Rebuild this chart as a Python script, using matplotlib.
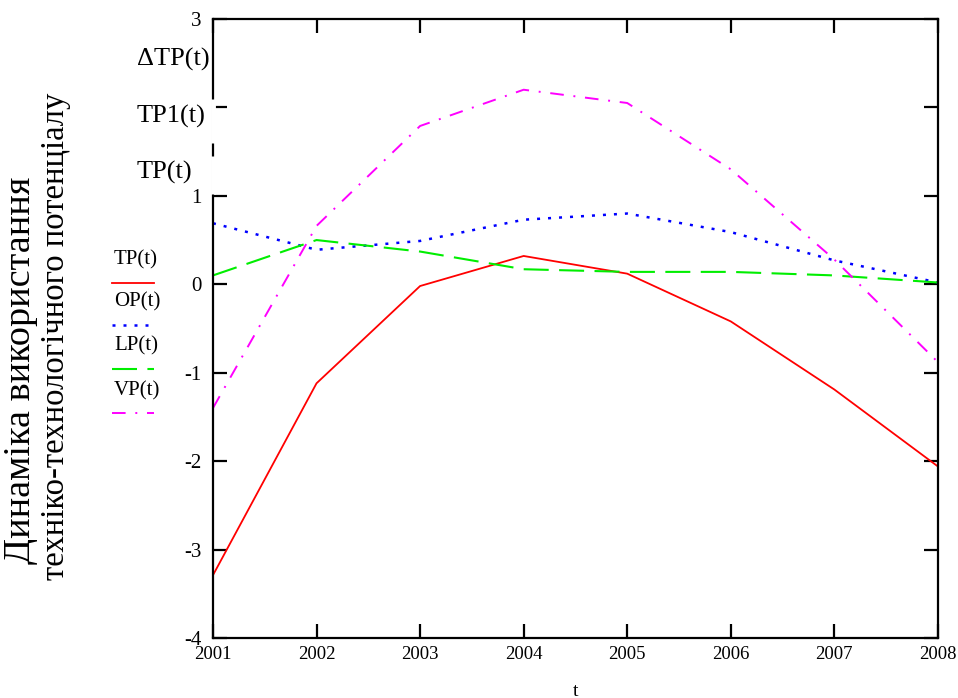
import numpy as np
import matplotlib
matplotlib.use("Agg")
import matplotlib.pyplot as plt
from matplotlib.lines import Line2D

plt.rcParams['font.family'] = ['Liberation Serif', 'DejaVu Serif']
plt.rcParams['axes.unicode_minus'] = False

# Yearly values of the potential components
years = [2001, 2002, 2003, 2004, 2005, 2006, 2007, 2008]
tp = [-3.29, -1.12, -0.02, 0.32, 0.12, -0.42, -1.19, -2.06]
op = [0.69, 0.39, 0.49, 0.73, 0.80, 0.59, 0.27, 0.02]
lp = [0.10, 0.50, 0.37, 0.17, 0.14, 0.14, 0.10, 0.02]
vp = [-1.40, 0.66, 1.79, 2.20, 2.05, 1.30, 0.28, -0.88]

series_names = ["TP(t)", "OP(t)", "LP(t)", "VP(t)"]
stacked_labels = ["\u0394TP(t)", "TP1(t)", "TP(t)"]
y_ticks = [3, 2, 1, 0, -1, -2, -3, -4]
y_ticklabels = ["3", "", "1", "0", "-1", "-2", "-3", "-4"]

styles = [
    dict(color="#ff0000", lw=1.3, ls="-"),
    dict(color="#0000ff", lw=1.8, ls=(0, (1.2, 3.2))),
    dict(color="#00ee00", lw=1.5, ls=(0, (12, 5))),
    dict(color="#ff00ff", lw=1.4, ls=(0, (7, 5, 1, 5))),
]

fig = plt.figure(figsize=(9.58, 6.98), dpi=100)
ax = fig.add_axes([0.2223, 0.086, 0.7567, 0.8868])

for vals, st in zip([tp, op, lp, vp], styles):
    ax.plot(years, vals, **st)

ax.set_xlim(2001, 2008)
ax.set_ylim(-4, 3)
ax.set_xticks(years)
ax.set_xticklabels([str(y) for y in years], fontsize=13.5)
ax.set_yticks(y_ticks)
ax.set_yticklabels(y_ticklabels, fontsize=15)

for s in ax.spines.values():
    s.set_linewidth(1.6)
ax.tick_params(axis="both", direction="in", length=10, width=1.6,
               top=True, right=True)
ax.tick_params(axis="y", pad=8)
ax.tick_params(axis="x", pad=6)

ax.set_xlabel("t", fontsize=14, labelpad=14)

# Gaps in the left spine behind the stacked y labels
trans = ax.get_yaxis_transform()
for y0, y1 in [(1.60, 2.10), (1.02, 1.45)]:
    ax.plot([0, 0], [y0, y1], color="white", lw=3.5, transform=trans,
            clip_on=False, zorder=2.6, solid_capstyle="butt")

for lbl, yv in zip(stacked_labels, [2.54, 1.90, 1.26]):
    ax.text(-0.105, yv, lbl, transform=trans, ha="left", va="center",
            fontsize=19)

# Legend block to the left of the plot
leg_y = [0.627, 0.567, 0.504, 0.440]
for name, st, yy in zip(series_names, styles, leg_y):
    fig.text(0.119, yy, name, fontsize=15, ha="left", va="center")
    fig.add_artist(Line2D([0.117, 0.161], [yy - 0.032, yy - 0.032],
                          transform=fig.transFigure, **st))

fig.text(0.022, 0.470, "Динаміка використання",
         rotation=90, ha="center", va="center", fontsize=27.5)
fig.text(0.058, 0.518, "техніко-технологічного потенціалу",
         rotation=90, ha="center", va="center", fontsize=23.5)

fig.savefig("out.png", dpi=100)
